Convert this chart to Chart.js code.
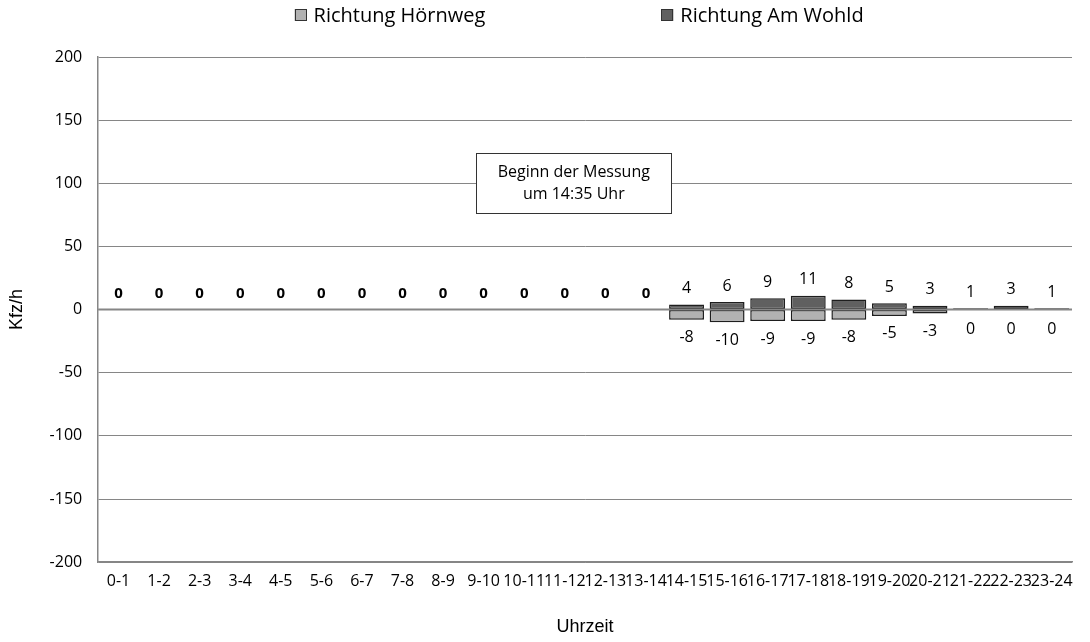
<!DOCTYPE html>
<html>
<head>
<meta charset="utf-8">
<script src="https://cdn.jsdelivr.net/npm/chart.js@4"></script>
<style>
  html, body { margin: 0; padding: 0; background: #fff; }
  #wrap { width: 1090px; height: 642px; }
</style>
</head>
<body>
<div id="wrap"><canvas id="chart"></canvas></div>
<script>
// hourly counts, Kfz/h (Hörnweg shown below zero)
const hours = ["0-1","1-2","2-3","3-4","4-5","5-6","6-7","7-8","8-9","9-10","10-11","11-12",
  "12-13","13-14","14-15","15-16","16-17","17-18","18-19","19-20","20-21","21-22","22-23","23-24"];
const hoernweg = [null,null,null,null,null,null,null,null,null,null,null,null,null,null,
  -8,-10,-9,-9,-8,-5,-3,0,0,0];
const amWohld = [null,null,null,null,null,null,null,null,null,null,null,null,null,null,
  4,6,9,11,8,5,3,1,3,1];
const yTicks = [-200,-150,-100,-50,0,50,100,150,200];

const TICK_FONT = { family: "'Open Sans', sans-serif", size: 16 };
const TITLE_FONT = { family: "'Liberation Sans', Arial, sans-serif", size: 18 };

// value labels above/below each stack, bold 0 where no measurement yet
const valueLabels = {
  id: "valueLabels",
  afterDatasetsDraw(chart) {
    const { ctx, chartArea } = chart;
    const y = chart.scales.y;
    const zero = y.getPixelForValue(0);

    // zero line over the bars
    ctx.save();
    ctx.strokeStyle = "#868686";
    ctx.lineWidth = 2;
    ctx.beginPath();
    ctx.moveTo(chartArea.left, zero);
    ctx.lineTo(chartArea.right, zero);
    ctx.stroke();

    ctx.fillStyle = "#000";
    ctx.textAlign = "center";
    ctx.textBaseline = "middle";
    const low = chart.getDatasetMeta(0).data;
    const high = chart.getDatasetMeta(1).data;
    hours.forEach((h, i) => {
      const x = chart.scales.x.getPixelForValue(i);
      if (amWohld[i] === null) {
        ctx.font = "bold 15px 'Open Sans', sans-serif";
        ctx.fillText("0", x, zero - 16);
        return;
      }
      ctx.font = "16px 'Open Sans', sans-serif";
      ctx.fillText(String(amWohld[i]), x, high[i].y - 16);
      ctx.fillText(String(hoernweg[i]), x, Math.max(low[i].y + 18, zero + 20));
    });
    ctx.restore();
  }
};

// note box + legend drawn on top
const extras = {
  id: "extras",
  afterDraw(chart) {
    const { ctx, chartArea } = chart;
    ctx.save();
    // note box
    const bx = chart.scales.x.getPixelForValue(11) + 9;
    const by = chart.scales.y.getPixelForValue(100);
    const w = 195, h = 60;
    ctx.fillStyle = "#fff";
    ctx.fillRect(bx - w / 2, by - h / 2, w, h);
    ctx.strokeStyle = "#333";
    ctx.lineWidth = 1;
    ctx.strokeRect(Math.round(bx - w / 2) + 0.5, Math.round(by - h / 2) + 0.5, w, h);
    ctx.fillStyle = "#000";
    ctx.font = "16px 'Open Sans', sans-serif";
    ctx.textAlign = "center";
    ctx.textBaseline = "middle";
    ctx.fillText("Beginn der Messung", bx, by - 11);
    ctx.fillText("um 14:35 Uhr", bx, by + 11);

    // legend
    ctx.font = "20px 'Open Sans', sans-serif";
    ctx.textAlign = "left";
    const ds = chart.data.datasets;
    const w1 = ctx.measureText(ds[0].label).width;
    const w2 = ctx.measureText(ds[1].label).width;
    const gap = 176, box = 12, sp = 7;
    const total = box + sp + w1 + gap + box + sp + w2;
    let lx = (chartArea.left + chartArea.right) / 2 - total / 2 - 6;
    const ly = 15;
    [[ds[0], w1], [ds[1], w2]].forEach(([d, tw]) => {
      ctx.fillStyle = d.backgroundColor;
      ctx.fillRect(lx, ly - 6, box, box);
      ctx.strokeStyle = "#333";
      ctx.strokeRect(Math.round(lx) + 0.5, ly - 6 + 0.5, box - 1, box - 1);
      ctx.fillStyle = "#000";
      ctx.fillText(d.label, lx + box + sp, ly + 1);
      lx += box + sp + tw + gap;
    });
    ctx.restore();
  }
};

new Chart(document.getElementById("chart"), {
  type: "bar",
  data: {
    labels: hours,
    datasets: [
      {
        label: "Richtung Hörnweg",
        data: hoernweg,
        backgroundColor: "#b2b2b2",
        borderColor: "#1e1e1e",
        borderWidth: 1.5,
        borderSkipped: false,
        stack: "s",
      },
      {
        label: "Richtung Am Wohld",
        data: amWohld,
        backgroundColor: "#606060",
        borderColor: "#1e1e1e",
        borderWidth: 1.5,
        borderSkipped: false,
        stack: "s",
      },
    ],
  },
  options: {
    responsive: true,
    maintainAspectRatio: false,
    animation: false,
    layout: { padding: { top: 57, right: 18, bottom: 4, left: 6 } },
    datasets: { bar: { categoryPercentage: 1, barPercentage: 0.86 } },
    plugins: {
      legend: { display: false },
      tooltip: { enabled: false },
    },
    scales: {
      x: {
        stacked: true,
        grid: { display: false, drawTicks: false },
        border: { display: true, color: "#868686", width: 1.5 },
        ticks: { color: "#000", font: TICK_FONT, autoSkip: false, maxRotation: 0, padding: 10 },
        title: { display: true, text: "Uhrzeit", color: "#000", font: TITLE_FONT, padding: { top: 15, bottom: 0 } },
      },
      y: {
        stacked: true,
        min: -200,
        max: 200,
        afterBuildTicks(scale) { scale.ticks = yTicks.map(v => ({ value: v })); },
        grid: { color: "#868686", lineWidth: 1, drawTicks: false },
        border: { display: true, color: "#868686", width: 1.5 },
        ticks: { color: "#000", font: TICK_FONT, padding: 16 },
        title: { display: true, text: "Kfz/h", color: "#000", font: TITLE_FONT, padding: { top: 0, bottom: 6 } },
      },
    },
  },
  plugins: [valueLabels, extras],
});
</script>
</body>
</html>
